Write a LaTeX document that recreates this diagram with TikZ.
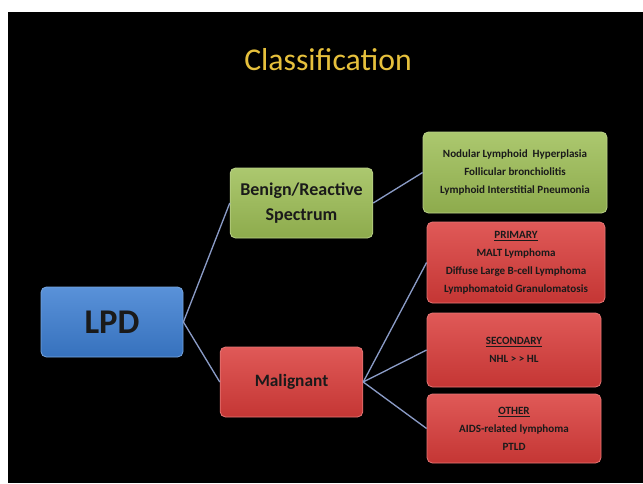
\documentclass[tikz,border=0pt]{standalone}
\usepackage{fontspec}
\setmainfont{Carlito}
\definecolor{lpdblue}{HTML}{3C7ED2}
\definecolor{benigngreen}{HTML}{9DBE55}
\definecolor{malred}{HTML}{DA3C3A}
\definecolor{linkblue}{HTML}{8A9BC6}
\definecolor{titlegold}{HTML}{E6C03C}
\definecolor{boxtext}{HTML}{1A1A1A}
\tikzset{
  box/.style={rounded corners=4pt, align=center, inner sep=0pt, text=boxtext,
    font=\bfseries, draw=#1!70!white, line width=0.6pt,
    top color=#1!85!white, bottom color=#1!90!black},
  smallbox/.style={box=#1, font=\bfseries\fontsize{8.3}{13.5}\selectfont},
  link/.style={linkblue, line width=1pt}
}
\begin{document}
\begin{tikzpicture}[x=0.75pt,y=-0.75pt]
  \fill[white] (0,0) rectangle (643,483);
  \fill[black] (8,12) rectangle (643,483);
  \useasboundingbox (0,0) rectangle (643,483);
  \node[titlegold, font=\fontsize{23.8}{28}\selectfont] (title) at (328,60) {Classification};
  \node[box=lpdblue, minimum width=106.5pt, minimum height=52.5pt,
        font=\bfseries\fontsize{26}{30}\selectfont] (LPD) at (112,322) {LPD};
  \node[box=benigngreen, minimum width=107pt, minimum height=52.5pt,
        font=\bfseries\fontsize{13.5}{18.5}\selectfont] (benign) at (301.5,203) {Benign/Reactive\\Spectrum};
  \node[box=malred, minimum width=107pt, minimum height=52.5pt,
        font=\bfseries\fontsize{13}{18}\selectfont] (malig) at (291.5,382) {Malignant};
  \node[smallbox=benigngreen, minimum width=138pt, minimum height=60.75pt] (reactive) at (515,172.5)
    {Nodular Lymphoid\ \ Hyperplasia\\Follicular bronchiolitis\\Lymphoid Interstitial Pneumonia};
  \node[smallbox=malred, minimum width=133.5pt, minimum height=60.75pt] (primary) at (516,262.5)
    {\underline{PRIMARY}\\MALT Lymphoma\\Diffuse Large B-cell Lymphoma\\Lymphomatoid Granulomatosis};
  \node[smallbox=malred, minimum width=130.5pt, minimum height=55.5pt] (secondary) at (514,350)
    {\underline{SECONDARY}\\NHL > > HL};
  \node[smallbox=malred, minimum width=130.5pt, minimum height=51.75pt] (other) at (514,428.5)
    {\underline{OTHER}\\AIDS-related lymphoma\\PTLD};
  % connectors
  \draw[link] (LPD.east) -- (benign.west);
  \draw[link] (LPD.east) -- (malig.west);
  \draw[link] (benign.east) -- (reactive.west);
  \draw[link] (malig.east) -- (primary.west);
  \draw[link] (malig.east) -- (secondary.west);
  \draw[link] (malig.east) -- (other.west);
\end{tikzpicture}
\end{document}
